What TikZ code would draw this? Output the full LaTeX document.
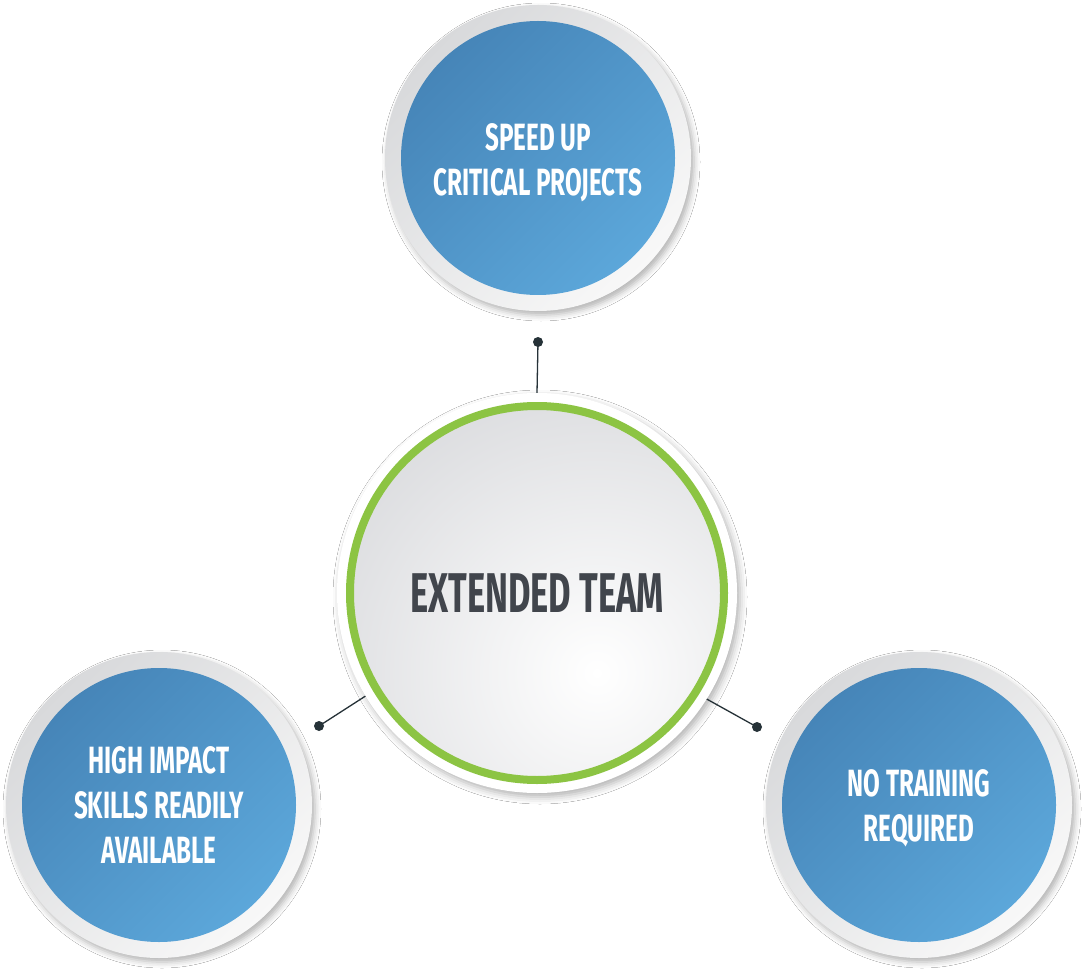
\documentclass[tikz,border=0pt]{standalone}
\usepackage{fontspec}
\setmainfont{Fira Sans}
\usetikzlibrary{shadows.blur}
\definecolor{blueA}{HTML}{4685B8}
\definecolor{blueB}{HTML}{5CA7DA}
\definecolor{ringA}{HTML}{D8D9DB}
\definecolor{ringB}{HTML}{F8F8F8}
\definecolor{hubA}{HTML}{D8D9DC}
\definecolor{greenR}{HTML}{8CC443}
\definecolor{darkT}{HTML}{41454C}
\definecolor{lineC}{HTML}{263238}
\newcommand{\cnd}[1]{\scalebox{0.637}[1]{#1}}
\newcommand{\cnh}[1]{\scalebox{0.617}[1]{#1}}
\begin{document}
\begin{tikzpicture}[x=1pt,y=-1pt,
  ring/.style={circle, minimum size=306pt, inner sep=0pt, top color=ringA, bottom color=ringB, shading angle=45,
    blur shadow={shadow xshift=3pt, shadow yshift=-4pt, shadow blur radius=6pt, shadow opacity=30}},
  bluec/.style={circle, minimum size=274pt, inner sep=0pt, top color=blueA, bottom color=blueB, shading angle=45},
  lbl/.style={text=white, font=\bfseries\fontsize{38}{45}\selectfont, align=center, inner sep=0pt},
  hubout/.style={circle, minimum size=400pt, inner sep=0pt, fill=white,
    blur shadow={shadow xshift=3pt, shadow yshift=-4pt, shadow blur radius=7pt, shadow opacity=30}},
  hubin/.style={circle, minimum size=374pt, inner sep=0pt, draw=greenR, line width=8pt,
    path picture={\shade[inner color=white, outer color=hubA] ([xshift=60pt,yshift=-80pt]path picture bounding box.center) circle (330pt);},
    text=darkT, font=\bfseries\fontsize{56}{60}\selectfont},
  dotc/.style={circle, fill=lineC, minimum size=10pt, inner sep=0pt},
  conn/.style={draw=lineC, line width=1.3pt}
]
\useasboundingbox (0,0) rectangle (1084,976);
\fill[white] (0,0) rectangle (1084,976);

% top
\node[ring] (tring) at (538,158) {};
\node[bluec] (tblue) at (538,158) {};
\node[lbl] (ttext) at (538,163) {\cnd{SPEED UP}\\\cnd{CRITICAL PROJECTS}};
% left
\node[ring] (lring) at (159,805) {};
\node[bluec] (lblue) at (159,805) {};
\node[lbl] (ltext) at (159,805) {\cnd{HIGH IMPACT}\\\cnd{SKILLS READILY}\\\cnd{AVAILABLE}};
% right
\node[ring] (rring) at (919,805) {};
\node[bluec] (rblue) at (919,805) {};
\node[lbl] (rtext) at (919,808) {\cnd{NO TRAINING}\\\cnd{REQUIRED}};
% hub
\node[hubout] (hub) at (537,593) {};
\node[hubin] (hubi) at (537,593) {\cnh{EXTENDED TEAM}};

% connectors
\node[dotc] (d1) at (538,342) {};
\node[dotc] (d2) at (319,726) {};
\node[dotc] (d3) at (757,727) {};
\draw[conn] (d1.center) -- (hub.90);
\draw[conn] (d2.center) -- (hub.211.5);
\draw[conn] (d3.center) -- (hub.-32);
\end{tikzpicture}
\end{document}
